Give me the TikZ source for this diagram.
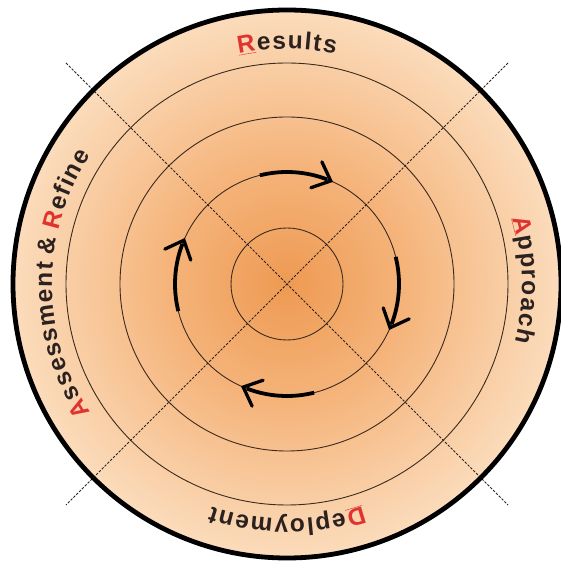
\documentclass[tikz,border=0pt]{standalone}
\usepackage{fontspec}
\usetikzlibrary{calc}
\newfontfamily\ringfont{Liberation Sans}
\definecolor{ink}{HTML}{2B2220}
\definecolor{accent}{HTML}{E0322E}
\definecolor{ringline}{HTML}{3A2A1F}
\definecolor{c0}{HTML}{EE9A52}
\definecolor{c1}{HTML}{F5B47B}
\definecolor{c2}{HTML}{FBDCBC}
\pgfdeclareradialshading{ringshade}{\pgfpoint{0bp}{0bp}}{%
  color(0bp)=(c0); color(11bp)=(c1); color(25bp)=(c2); color(50bp)=(c2)}
\def\fs{24.5}
\def\trk{1.5}
\def\rb{235}
\newcommand\ringtext[3]{%
  \gdef\rtsum{0}%
  \foreach \ch/\w/\c in {#3}{%
    \pgfmathsetmacro\tmp{\rtsum+\w/1000*\fs+\trk}\xdef\rtsum{\tmp}}%
  \pgfmathsetmacro\rtL{\rtsum-\trk}\xdef\rtL{\rtL}%
  \gdef\rtpos{0}%
  \foreach \ch/\w/\c [count=\i] in {#3}{%
    \pgfmathsetmacro\s{\rtpos+\w/2000*\fs-\rtL/2}%
    \pgfmathsetmacro\ang{#2-\s/\rb*57.29578}%
    \ifx\ch\empty\else
      \node[ringletter,text=\c,rotate=\ang-90] (#1\i) at ($(C)+(\ang:\rb)$) {\ch};
    \fi
    \pgfmathsetmacro\tmp{\rtpos+\w/1000*\fs+\trk}\xdef\rtpos{\tmp}}%
}
\begin{document}
\begin{tikzpicture}[x=1pt,y=1pt,
  ringletter/.style={inner sep=0pt,anchor=base,font=\ringfont\fontsize{\fs}{\fs}\selectfont\bfseries},
  thinring/.style={draw=ringline,line width=0.9pt},
  diag/.style={draw=ink,line width=0.9pt,dash pattern=on 2.5pt off 1.5pt},
  cycarc/.style={draw=black,line width=3.8pt},
  chevron/.style={draw=black,line width=3.3pt,line cap=round,line join=miter}]
\useasboundingbox[fill=white] (0,0) rectangle (561,568);
\coordinate (C) at (287,284);
\fill[shading=ringshade] (C) circle[radius=274];
\draw[thinring] (C) circle[radius=56];
\draw[thinring] (C) circle[radius=112];
\draw[thinring] (C) circle[radius=167];
\draw[thinring] (C) circle[radius=221];
\coordinate (d1) at ($(C)+(-221,221)$);
\coordinate (d2) at ($(C)+(221,-221)$);
\coordinate (d3) at ($(C)+(221,221)$);
\coordinate (d4) at ($(C)+(-221,-221)$);
\draw[diag] (d1) -- (d2);
\draw[diag] (d3) -- (d4);
\draw[line width=4.8pt,draw=black] (C) circle[radius=274];
\foreach \a [count=\k] in {104,14,-76,194}{
  \pgfmathsetmacro\e{\a-37}
  \coordinate (as\k) at ($(C)+(\a:112)$);
  \coordinate (at\k) at ($(C)+(\e:112)$);
  \draw[cycarc] (as\k) arc[start angle=\a, end angle=\e+2, radius=112];
  \draw[chevron] ($(at\k)+(\e+90-42:21)$) -- (at\k) -- ($(at\k)+(\e+90+42:21)$);
}
\ringtext{res}{90}{{\underline{R}}/722/accent, e/556/ink, s/556/ink, u/611/ink, l/278/ink, t/333/ink, s/556/ink}
\ringtext{app}{1}{{\underline{A}}/722/accent, p/611/ink, p/611/ink, r/389/ink, o/611/ink, a/556/ink, c/556/ink, h/611/ink}
\ringtext{dep}{-90}{{\underline{D}}/722/accent, e/556/ink, p/611/ink, l/278/ink, o/611/ink, y/556/ink, m/889/ink, e/556/ink, n/611/ink, t/333/ink}
\ringtext{ass}{180}{A/722/accent, s/556/ink, s/556/ink, e/556/ink, s/556/ink, s/556/ink, m/889/ink, e/556/ink, n/611/ink, t/333/ink, /180/ink, \&/722/ink, /180/ink, R/722/accent, e/556/ink, f/333/ink, i/278/ink, n/611/ink, e/556/ink}
\end{tikzpicture}
\end{document}
